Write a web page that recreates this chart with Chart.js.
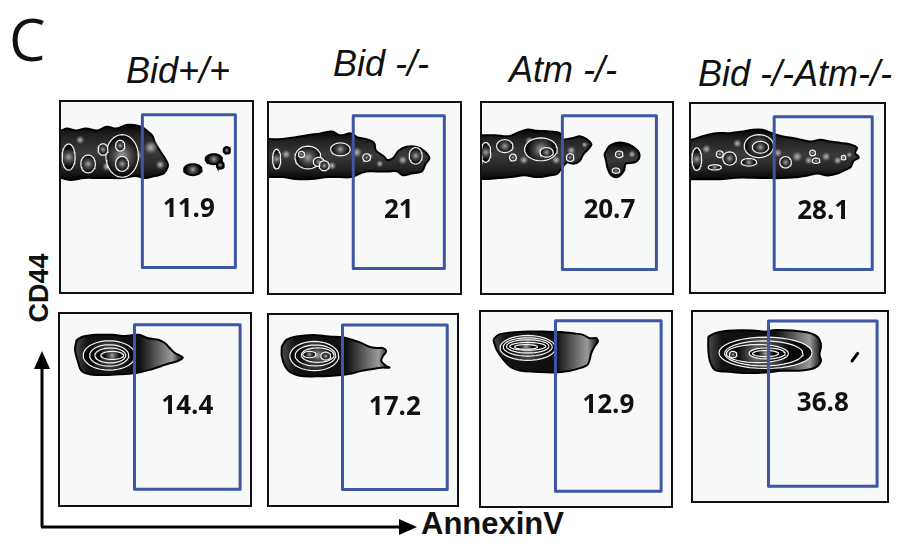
<!DOCTYPE html>
<html>
<head>
<meta charset="utf-8">
<script src="https://cdn.jsdelivr.net/npm/chart.js@4.4.1/dist/chart.umd.min.js"></script>
<style>
  html, body { margin: 0; padding: 0; background: #fff; }
  #fig { position: relative; width: 897px; height: 544px; overflow: hidden; font-family: "Liberation Sans", Arial, sans-serif; color: #111; }
  .panel { position: absolute; box-sizing: border-box; border: 2px solid #111; background: #f7f9f9; }
  .panel canvas { display: block; }
  .hdr { position: absolute; font-style: italic; font-size: 36px; line-height: 36px; white-space: nowrap; transform: translateX(-50%); }
  #letter { position: absolute; left: 9px; top: 10px; font-family: "Open Sans", sans-serif; font-size: 58px; line-height: 58px; }
  #ylab { position: absolute; left: 39px; top: 288px; font-weight: bold; font-size: 27px; line-height: 27px; white-space: nowrap; transform: translate(-50%, -50%) rotate(-90deg); }
  #xlab { position: absolute; left: 421px; top: 508px; font-weight: bold; font-size: 31px; line-height: 31px; white-space: nowrap; }
  #axes { position: absolute; left: 0; top: 0; }
</style>
</head>
<body>
<div id="fig">
  <div id="letter">C</div>
  <svg id="axes" width="897" height="544">
    <line x1="42" y1="527" x2="42" y2="366" stroke="#000" stroke-width="3"/>
    <polygon points="42,351 34,369 50,369" fill="#000"/>
    <line x1="41" y1="527" x2="401" y2="527" stroke="#000" stroke-width="3"/>
    <polygon points="417,527 399,519 399,535" fill="#000"/>
  </svg>
  <div id="ylab">CD44</div>
  <div id="xlab">AnnexinV</div>
</div>
<script>
// ---- genotypes and gated percentages (AnnexinV+ gate) ----
const genotypes = ['Bid+/+', 'Bid -/-', 'Atm -/-', 'Bid -/-Atm-/-'];
const gatedTop = [11.9, 21, 20.7, 28.1];
const gatedBottom = [14.4, 17.2, 12.9, 36.8];

// gates as [AnnexinV min, AnnexinV max, CD44 min, CD44 max] on a 0-100 scale
const gatesTop = [[42.6, 91.3, 12.9, 93.3], [44.1, 91.8, 12.9, 93.3], [42.3, 91.8, 12.4, 93.3], [43.1, 93.9, 12.0, 93.2]];
const gatesBottom = [[39.2, 94.8, 8.2, 94.4], [39.1, 94.8, 8.2, 94.8], [39.2, 94.8, 7.6, 95.5], [38.9, 94.9, 7.8, 95.3]];

// outer contour of each population, [AnnexinV, CD44]
const outlineTop1 = [[-3,85],[0,85],[3,86],[8,85],[13,86],[19,85],[24,87],[29,86],[35,88],[42,87],[46,84],[48,82],[49,79],[52,74],[54,71],[56,67],[55,64],[53,62],[49,61],[44,60],[39,61],[32,60],[25,60],[19,60],[12,60],[5,59],[0,60],[-3,60]];
const outlineTop2 = [[-3,81],[0,81],[7,81],[14,82],[20,83],[27,84],[33,85],[37,83],[43,84],[46,82],[51,81],[55,79],[56,75],[60,72],[62,70],[65,71],[68,75],[72,77],[77,77],[81,75],[84,71],[82,68],[80,64],[75,63],[70,62],[67,64],[63,64],[60,64],[56,64],[51,64],[48,63],[43,61],[37,61],[31,61],[22,60],[14,60],[7,61],[0,61],[-3,61]];
const outlineTop3 = [[-3,83],[0,83],[7,83],[14,82.5],[19,84.5],[24,86],[29,85.4],[36,85],[41,84.2],[42,81],[45,81],[48,81.6],[51.5,82.5],[55,81],[57.6,78.2],[55.8,75.6],[53.3,73],[51.5,69.6],[48.1,68],[44.7,68.7],[42.1,66],[39.5,62.7],[36.1,62],[29.2,61],[22.3,62],[15.5,61],[8.6,60.5],[3.4,60],[0,60],[-3,60]];
const islandTop3 = [[64.4,73],[67,77.3],[70.5,79],[74.7,79],[79,77.3],[82.5,74],[82.5,70.5],[80,68.7],[75.6,68],[74.7,64.4],[71.3,61],[68,62],[66.2,65.3],[65.3,69.6]];
const outlineTop4 = [[-3,81],[0.5,81],[6.4,83],[13,84.5],[20,84.5],[27,85.4],[32,86.3],[37,86.3],[42,84.5],[47,82.8],[52,82],[57,81],[62,80],[67,81],[72,80],[77.5,79.3],[82.6,78.5],[86,76.7],[85,74],[87,71.5],[84.3,69.8],[82.6,66.3],[79.2,64.6],[75.8,63],[70.7,62],[65.6,63],[60.5,62],[53.8,61],[47,60.6],[40.3,60.6],[31.8,60.8],[23.4,60.8],[15,60],[6.4,60],[0.5,60],[-3,60]];
const outlineBottom1 = [[8.8,86.5],[12.2,88.2],[19.1,89.1],[27.7,89.1],[34.5,88.5],[41.4,89.1],[46.5,87.3],[51.7,86.5],[55.2,84.8],[57.7,82.2],[60.3,79.7],[64.6,77.1],[62,75.4],[57.7,74.2],[53.5,72.8],[48.3,71.1],[41.4,69.4],[32.8,68.5],[24.2,68],[15.6,68.5],[11.3,70.3],[9.6,74.5],[7.9,81.4]];
const outlineBottom2 = [[6.8,83.5],[9.4,87],[14.6,88.7],[23.3,89.5],[31.9,88.7],[38.9,88.3],[44.1,87],[49.3,85.2],[53.6,83.2],[58,82.6],[60.6,82.6],[62.3,80.9],[60.6,78.4],[59.7,75.8],[62.3,73.2],[64.1,72.3],[59.7,72.3],[54.5,71.5],[49.3,70.6],[42.3,68.9],[33.7,68],[25,67.7],[16.3,68],[11.1,70.1],[8.5,73.2],[6.8,78.4]];
const outlineBottom3 = [[6.5,85.7],[9.1,88.2],[16,89.4],[24.6,89.9],[33.1,89.9],[41.8,89.7],[48.6,89],[53.8,88.2],[57.2,86.5],[60.7,86.5],[61.5,84.8],[59.8,82.3],[58.1,78.9],[56.3,73.1],[52.9,71.3],[46.9,69.7],[38.3,68.8],[28,69.2],[21.1,69.7],[16,71.4],[11.7,75.6],[8.2,80.7]];
const outlineBottom4 = [[7.9,87],[12.1,89.1],[20.6,90.2],[30.7,90.2],[37.4,89.6],[42.4,90.5],[50.9,90.2],[59.2,89.1],[63.5,87.4],[65.2,85.3],[66,81.9],[65.2,77.6],[66,74.1],[64.3,71.5],[61,69.8],[54.2,68.9],[45.8,68.9],[37.4,68],[27.3,67.7],[18.8,68.4],[11.3,69.4],[8.7,74.1],[7.9,80.2]];

// small separate events as [centre AnnexinV, centre CD44, half-width, half-height]
const islandsTop1 = [[69,64.4,4.6,2.9],[80,69.9,4.3,2.6],[83.4,66.8,1.8,1.8],[86.8,74.6,1.7,1.7]];

// unoutlined grey density patches inside the upper-row bands
const shadesTop1 = [[47,76,4,5],[52,67,3,3],[40,72,3,4],[24,66,3,3],[10,80,3,2.5]];
const shadesTop2 = [[46,74,3,4],[58,68,2.2,2.5],[70,70,3,3],[53,72,2,2],[9,73,3,3],[33,67,3,2.5]];
const shadesTop3 = [[47,75,3,3],[54,78,2,2],[39,70,3,3],[79,73,2.5,2.5],[22,70,3,3],[25,80,3,2.5]];
const shadesTop4 = [[55,72,3,4],[61,70,2.5,3],[70,72,3,3],[76,70,2.5,3],[82,73,2,2],[45,74,3,3],[8,76,3,3],[24,79,3,2.5]];

// inner density contours, [centre AnnexinV, centre CD44, half-width, half-height]
const ringsTop1 = [[4,71,3.4,6.9],[14.2,67.4,3.8,4.7],[32,71.6,8.5,11.2],[32,67.4,3.4,3.9],[31,77,2.4,2.8],[22,75,2.6,3]];
const ringsTop2 = [[4,70.5,2.1,5.2],[20.4,71.3,6.8,6],[17,73,1.6,1.6],[26,69,2.8,2.4],[37.4,75.6,5.1,3.4],[28.9,67,2.6,2.6],[51.1,71.3,2,2],[76.8,72.2,3.4,4.3]];
const ringsTop3 = [[2,74,2.6,5.2],[12,77.3,4.3,3.4],[16.3,71.3,1.8,1.8],[31,75.6,8.6,6],[34,74,3.5,2.5],[46.4,71.3,2,2],[72.2,73,2,1.7],[70.5,64.4,2,1.4]];
const ringsTop4 = [[3,70.7,2.5,6],[14.9,73.3,1.8,1.8],[12.3,66.3,3.4,1.4],[20,71,3.5,3.5],[35.2,77.6,7.6,6.1],[36,77,4.2,3.1],[30,69,4,2],[49,69,3,3],[63,74,1.5,1.5],[64.8,69.8,2,1.4],[79,71.5,1.2,1.2]];
const ringsBottom1 = [[25.9,78.3,13.7,7.7],[25.9,78.3,10.3,5.6],[26.5,78.3,8.1,3.9],[27.5,78.3,6,2.1]];
const ringsBottom2 = [[24.1,78.4,13,7.7],[24.7,78.7,10.8,5.5],[25.9,78.9,8.7,3.8],[21.5,79.2,3.5,1.7],[30.2,78.4,2.6,2.1]];
const ringsBottom3 = [[24.6,81.5,14.6,6.4],[24.6,82,12.9,4.7],[24.6,82.3,11.2,3.4],[24.6,82.3,9.5,2],[23.7,82,6,1.2]];
const ringsBottom4 = [[37.4,78.4,24,8.3],[36.5,78.1,20.2,6.6],[33.2,78,16,4.8],[38.2,78.1,9.3,2.9],[20.6,77.5,2,1.7],[37.4,78,6.7,1.6]];

// stray event streak in the double-knockout lower plot
const streakBottom4 = [[82,74.1],[84.9,78.1]];

// ---- page layout: outer box of every plot [left, top, right, bottom] in px ----
const boxesTop = [[59,100,254,294],[267,101,462,295],[480,101,674,295],[689,102,886,294]];
const boxesBottom = [[58,312,252,507],[267,313,459,507],[479,310,673,508],[691,310,889,503]];
const headerPos = [[178,53],[381,46],[563,52],[795,56]];

const fig = document.getElementById('fig');

genotypes.forEach((g, i) => {
  const d = document.createElement('div');
  d.className = 'hdr';
  d.textContent = g;
  d.style.left = headerPos[i][0] + 'px';
  d.style.top = headerPos[i][1] + 'px';
  fig.appendChild(d);
});

const closed = pts => pts.map(p => ({x: p[0], y: p[1]})).concat([{x: pts[0][0], y: pts[0][1]}]);
function ellipse(e) {
  const [cx, cy, rx, ry] = e, out = [];
  for (let k = 0; k <= 36; k++) {
    const t = k / 36 * Math.PI * 2;
    out.push({x: cx + rx * Math.cos(t), y: cy + ry * Math.sin(t)});
  }
  return out;
}

// radial fill: light core fading to black at the contour
function radialShade(stops) {
  return function (context) {
    const chart = context.chart, ds = context.dataset;
    if (!chart.chartArea || !ds.core) return '#1a1a1a';
    const sx = chart.scales.x, sy = chart.scales.y;
    const [cx, cy, rx, ry] = ds.core;
    const px = sx.getPixelForValue(cx), py = sy.getPixelForValue(cy);
    const rpx = Math.abs(sx.getPixelForValue(cx + rx) - px);
    const rpy = Math.abs(sy.getPixelForValue(cy + ry) - py);
    const r = Math.max(1.5, (rpx + rpy) / 2);
    const g = chart.ctx.createRadialGradient(px, py, 0, px, py, r);
    stops.forEach(s => g.addColorStop(s[0], s[1]));
    return g;
  };
}
const coreShade = radialShade([[0, '#a2a2a2'], [0.45, '#4a4a4a'], [1, '#060606']]);
const patchShade = radialShade([[0, '#b4b4b4'], [0.45, '#6e6e6e'], [1, 'rgba(30,30,30,0)']]);

// upper-row bands: black rim, dark grey body
function bandShade(context) {
  const chart = context.chart, ds = context.dataset;
  if (!chart.chartArea) return '#1a1a1a';
  const sy = chart.scales.y;
  const ys = ds.data.map(p => p.y);
  const y0 = sy.getPixelForValue(Math.max(...ys)), y1 = sy.getPixelForValue(Math.min(...ys));
  const g = chart.ctx.createLinearGradient(0, y0, 0, y1);
  g.addColorStop(0, '#050505');
  g.addColorStop(0.2, '#222');
  g.addColorStop(0.5, '#3a3a3a');
  g.addColorStop(0.8, '#222');
  g.addColorStop(1, '#050505');
  return g;
}

// lower-row populations: dark body that turns grey towards the AnnexinV tail
function tailShade(context) {
  const chart = context.chart, ds = context.dataset;
  if (!chart.chartArea) return '#1a1a1a';
  const sx = chart.scales.x;
  const xs = ds.data.map(p => p.x);
  const x0 = sx.getPixelForValue(Math.min(...xs)), x1 = sx.getPixelForValue(Math.max(...xs));
  const g = chart.ctx.createLinearGradient(x0, 0, x1, 0);
  g.addColorStop(0, '#4a4a4a');
  g.addColorStop(0.12, '#121212');
  g.addColorStop(0.6, '#101010');
  g.addColorStop(0.8, '#6e6e6e');
  g.addColorStop(0.9, '#9a9a9a');
  g.addColorStop(1, '#111');
  return g;
}

const gateLabel = {
  id: 'gateLabel',
  afterDatasetsDraw(chart, args, opts) {
    const sx = chart.scales.x, sy = chart.scales.y;
    const [x1, x2, y1, y2] = opts.gate;
    const ctx = chart.ctx;
    const px = (sx.getPixelForValue(x1) + sx.getPixelForValue(x2)) / 2;
    const top = sy.getPixelForValue(y2), bot = sy.getPixelForValue(y1);
    ctx.save();
    ctx.font = 'bold 26px "Open Sans", "Liberation Sans", sans-serif';
    ctx.fillStyle = '#111';
    ctx.textAlign = 'center';
    ctx.textBaseline = 'middle';
    ctx.fillText(String(opts.value), px, top + (bot - top) * opts.frac);
    ctx.restore();
  }
};

function makePanel(box, spec) {
  const [l, t, r, b] = box;
  const div = document.createElement('div');
  div.className = 'panel';
  div.style.left = l + 'px';
  div.style.top = t + 'px';
  div.style.width = (r - l) + 'px';
  div.style.height = (b - t) + 'px';
  const cv = document.createElement('canvas');
  cv.width = r - l - 4;
  cv.height = b - t - 4;
  div.appendChild(cv);
  fig.appendChild(div);

  const sets = [];
  const base = {pointRadius: 0, clip: 0, spanGaps: true};
  spec.outlines.forEach(o => sets.push(Object.assign({}, base, {
    data: closed(o), fill: 'shape', tension: 0.35,
    backgroundColor: spec.lower ? tailShade : bandShade,
    borderColor: '#000', borderWidth: 2
  })));
  (spec.shades || []).forEach(e => sets.push(Object.assign({}, base, {
    data: ellipse(e), core: e, fill: 'shape', tension: 0,
    backgroundColor: patchShade, borderColor: 'rgba(0,0,0,0)', borderWidth: 0
  })));
  (spec.islands || []).forEach(e => sets.push(Object.assign({}, base, {
    data: ellipse(e), core: e, fill: 'shape', tension: 0,
    backgroundColor: coreShade, borderColor: '#000', borderWidth: 2
  })));
  spec.rings.forEach(e => sets.push(Object.assign({}, base, {
    data: ellipse(e), core: e, fill: 'shape', tension: 0,
    backgroundColor: coreShade, borderColor: '#f4f4f4', borderWidth: 1.2
  })));
  if (spec.streak) sets.push(Object.assign({}, base, {
    data: spec.streak.map(p => ({x: p[0], y: p[1]})), fill: false,
    borderColor: '#000', borderWidth: 3, borderCapStyle: 'round'
  }));
  const [gx1, gx2, gy1, gy2] = spec.gate;
  sets.push(Object.assign({}, base, {
    data: [{x: gx1, y: gy1}, {x: gx2, y: gy1}, {x: gx2, y: gy2}, {x: gx1, y: gy2}, {x: gx1, y: gy1}],
    fill: false, tension: 0, borderColor: '#3d56a6', borderWidth: 3, borderJoinStyle: 'round'
  }));
  sets.forEach((s, i) => { s.order = 1000 - i; });

  new Chart(cv, {
    type: 'line',
    data: {datasets: sets},
    plugins: [gateLabel],
    options: {
      responsive: false,
      animation: false,
      events: [],
      layout: {padding: 0},
      scales: {
        x: {type: 'linear', min: 0, max: 100, display: false},
        y: {type: 'linear', min: 0, max: 100, display: false}
      },
      plugins: {
        legend: {display: false},
        tooltip: {enabled: false},
        gateLabel: {gate: spec.gate, value: spec.value, frac: spec.frac}
      }
    }
  });
}

const topSpecs = [
  {outlines: [outlineTop1], shades: shadesTop1, islands: islandsTop1, rings: ringsTop1},
  {outlines: [outlineTop2], shades: shadesTop2, rings: ringsTop2},
  {outlines: [outlineTop3, islandTop3], shades: shadesTop3, rings: ringsTop3},
  {outlines: [outlineTop4], shades: shadesTop4, rings: ringsTop4}
];
const bottomSpecs = [
  {outlines: [outlineBottom1], rings: ringsBottom1},
  {outlines: [outlineBottom2], rings: ringsBottom2},
  {outlines: [outlineBottom3], rings: ringsBottom3},
  {outlines: [outlineBottom4], rings: ringsBottom4, streak: streakBottom4}
];

topSpecs.forEach((s, i) => makePanel(boxesTop[i], Object.assign(s, {gate: gatesTop[i], value: gatedTop[i], frac: 0.62})));
bottomSpecs.forEach((s, i) => makePanel(boxesBottom[i], Object.assign(s, {lower: true, gate: gatesBottom[i], value: gatedBottom[i], frac: 0.5})));
</script>
</body>
</html>
